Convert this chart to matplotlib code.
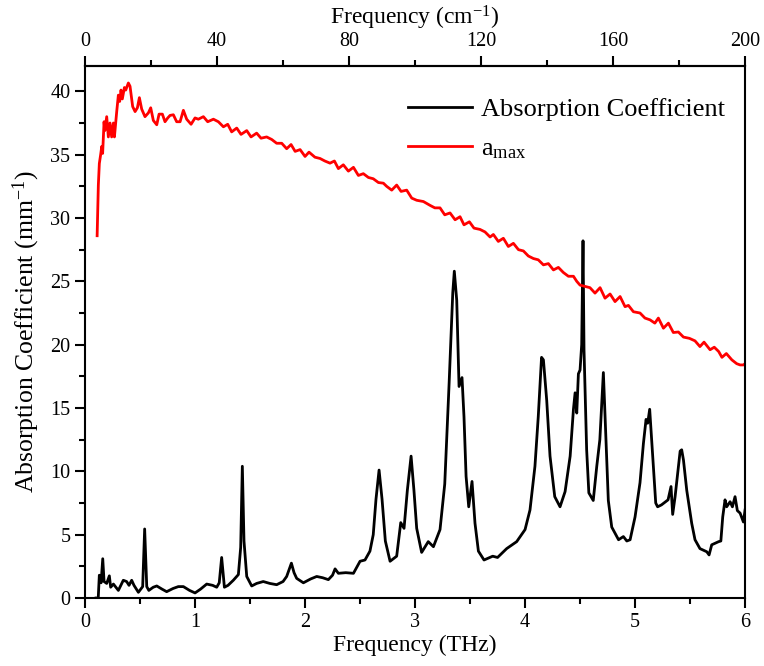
import matplotlib
matplotlib.use("Agg")
import matplotlib.pyplot as plt
from matplotlib.ticker import FixedLocator

plt.rcParams.update({
    'font.family': ['Liberation Serif', 'DejaVu Serif'],
    'mathtext.fontset': 'custom',
    'mathtext.rm': 'Liberation Serif',
    'mathtext.it': 'Liberation Serif:italic',
})

# absorption coefficient (black)
thz_abs = [0.10, 0.12, 0.13, 0.146, 0.161, 0.173, 0.197, 0.221, 0.233, 0.258,
           0.303, 0.348, 0.378, 0.40, 0.424, 0.445, 0.485, 0.524, 0.542, 0.561,
           0.58, 0.62, 0.652, 0.70, 0.742, 0.80, 0.848, 0.894, 0.95, 1.0,
           1.05, 1.106, 1.16, 1.197, 1.22, 1.242, 1.267, 1.30, 1.348, 1.394,
           1.415, 1.43, 1.445, 1.47, 1.515, 1.56, 1.62, 1.68, 1.742, 1.80,
           1.833, 1.876, 1.90, 1.924, 1.985, 2.05, 2.106, 2.16, 2.212, 2.25,
           2.273, 2.303, 2.37, 2.44, 2.50, 2.545, 2.59, 2.62, 2.645, 2.673,
           2.70, 2.73, 2.773, 2.833, 2.87, 2.90, 2.93, 2.964, 2.99, 3.015,
           3.06, 3.12, 3.167, 3.227, 3.27, 3.31, 3.343, 3.357, 3.379, 3.40,
           3.427, 3.445, 3.464, 3.488, 3.518, 3.545, 3.576, 3.627, 3.706, 3.75,
           3.833, 3.924, 4.0, 4.045, 4.09, 4.12, 4.15, 4.167, 4.197, 4.227,
           4.27, 4.318, 4.364, 4.41, 4.44, 4.455, 4.47, 4.485, 4.50, 4.515,
           4.527, 4.536, 4.56, 4.58, 4.62, 4.652, 4.68, 4.712, 4.733, 4.757,
           4.788, 4.85, 4.894, 4.925, 4.955, 5.0, 5.045, 5.076, 5.10, 5.115,
           5.133, 5.157, 5.188, 5.205, 5.24, 5.30, 5.327, 5.342, 5.364, 5.388,
           5.41, 5.424, 5.44, 5.47, 5.515, 5.545, 5.59, 5.652, 5.673, 5.697,
           5.76, 5.78, 5.797, 5.818, 5.833, 5.864, 5.885, 5.909, 5.93, 5.955,
           5.985, 6.0]
abs_coef = [0.0, 0.0, 1.8, 1.2, 3.1, 1.3, 1.15, 1.75, 0.85, 1.1,
            0.6, 1.4, 1.3, 1.0, 1.4, 1.0, 0.45, 0.9, 5.45, 0.9,
            0.6, 0.85, 0.95, 0.7, 0.5, 0.75, 0.9, 0.9, 0.6, 0.4,
            0.7, 1.1, 1.0, 0.85, 1.2, 3.2, 0.85, 1.0, 1.4, 1.85,
            4.0, 10.4, 4.5, 1.7, 0.95, 1.15, 1.3, 1.15, 1.05, 1.3,
            1.7, 2.75, 2.0, 1.55, 1.2, 1.5, 1.7, 1.6, 1.45, 1.8,
            2.3, 1.95, 2.0, 1.95, 2.9, 3.0, 3.7, 5.0, 7.8, 10.1,
            7.8, 4.5, 2.9, 3.3, 5.95, 5.5, 8.5, 11.2, 8.5, 5.5,
            3.6, 4.45, 4.05, 5.4, 9.0, 17.0, 24.1, 25.8, 23.5, 16.7,
            17.4, 14.3, 9.6, 7.2, 9.2, 5.9, 3.7, 3.0, 3.3, 3.2,
            3.9, 4.45, 5.4, 6.95, 10.4, 14.3, 19.0, 18.8, 15.6, 11.2,
            8.0, 7.2, 8.4, 11.2, 14.9, 16.2, 14.6, 17.7, 18.0, 20.0,
            28.2, 19.6, 11.7, 8.3, 7.7, 10.4, 12.5, 17.8, 13.0, 7.7,
            5.6, 4.6, 4.85, 4.5, 4.6, 6.4, 9.1, 12.2, 14.1, 13.8,
            14.9, 11.7, 7.5, 7.2, 7.35, 7.75, 8.8, 6.6, 8.0, 9.9,
            11.6, 11.7, 10.9, 8.5, 5.9, 4.6, 3.9, 3.65, 3.4, 4.2,
            4.45, 4.5, 6.4, 7.75, 7.2, 7.6, 7.2, 8.0, 6.9, 6.7,
            6.0, 6.95]

# a_max (red)
thz_amax = [0.11, 0.121, 0.13, 0.142, 0.152, 0.16, 0.173, 0.18, 0.197, 0.212,
            0.227, 0.242, 0.258, 0.267, 0.288, 0.303, 0.315, 0.327, 0.339, 0.358,
            0.37, 0.394, 0.409, 0.433, 0.455, 0.476, 0.494, 0.515, 0.545, 0.576,
            0.597, 0.621, 0.652, 0.673, 0.703, 0.727, 0.752, 0.773, 0.803, 0.833,
            0.864, 0.894, 0.924, 0.964, 1.0, 1.03, 1.076, 1.115, 1.167, 1.212,
            1.258, 1.297, 1.333, 1.379, 1.418, 1.47, 1.509, 1.56, 1.60, 1.651,
            1.697, 1.742, 1.788, 1.833, 1.873, 1.91, 1.955, 2.0, 2.036, 2.09,
            2.136, 2.18, 2.227, 2.267, 2.303, 2.348, 2.394, 2.44, 2.485, 2.53,
            2.576, 2.62, 2.667, 2.712, 2.742, 2.788, 2.833, 2.873, 2.924, 2.97,
            3.015, 3.076, 3.136, 3.18, 3.227, 3.27, 3.318, 3.364, 3.409, 3.445,
            3.494, 3.536, 3.59, 3.636, 3.682, 3.712, 3.757, 3.803, 3.848, 3.894,
            3.94, 3.985, 4.03, 4.076, 4.12, 4.167, 4.212, 4.258, 4.303, 4.348,
            4.394, 4.44, 4.47, 4.50, 4.545, 4.59, 4.636, 4.682, 4.727, 4.773,
            4.818, 4.864, 4.909, 4.94, 4.985, 5.045, 5.09, 5.136, 5.18, 5.212,
            5.258, 5.303, 5.348, 5.394, 5.44, 5.494, 5.545, 5.59, 5.627, 5.682,
            5.72, 5.76, 5.79, 5.83, 5.88, 5.924, 5.955, 5.985, 6.0]
amax = [28.6, 32.6, 34.3, 35.0, 35.65, 35.1, 37.6, 36.9, 38.0, 36.4,
        37.5, 36.4, 37.5, 36.4, 38.4, 39.7, 39.2, 40.1, 39.4, 40.3,
        40.1, 40.66, 40.4, 38.8, 38.4, 38.7, 39.5, 38.6, 38.0, 38.3,
        38.7, 37.7, 37.36, 38.2, 38.2, 37.6, 37.9, 38.1, 38.15, 37.6,
        37.6, 38.5, 37.8, 37.4, 37.9, 37.8, 38.0, 37.6, 37.8, 37.6,
        37.2, 37.4, 36.8, 37.1, 36.6, 36.9, 36.4, 36.7, 36.3, 36.4,
        36.2, 35.9, 35.9, 35.47, 35.8, 35.26, 35.4, 34.86, 35.2, 34.8,
        34.7, 34.5, 34.33, 34.5, 33.9, 34.2, 33.7, 34.0, 33.36, 33.5,
        33.2, 33.1, 32.8, 32.75, 32.5, 32.2, 32.6, 32.1, 32.2, 31.57,
        31.4, 31.3, 31.0, 30.8, 30.8, 30.25, 30.4, 29.86, 30.1, 29.46,
        29.7, 29.2, 29.1, 28.9, 28.5, 28.7, 28.15, 28.4, 27.75, 28.0,
        27.5, 27.4, 27.0, 26.8, 26.7, 26.3, 26.4, 25.9, 26.1, 25.7,
        25.4, 25.4, 25.0, 24.7, 24.6, 24.5, 24.07, 24.5, 23.67, 24.0,
        23.4, 23.8, 23.0, 23.1, 22.6, 22.5, 22.1, 21.96, 21.7, 22.1,
        21.3, 21.7, 20.96, 21.0, 20.6, 20.5, 20.3, 19.85, 20.2, 19.6,
        19.8, 19.46, 19.0, 19.3, 18.8, 18.5, 18.4, 18.4, 18.5]

thz_ticks = [0, 1, 2, 3, 4, 5, 6]
cm_ticks = [0, 40, 80, 120, 160, 200]
y_ticks = [0, 5, 10, 15, 20, 25, 30, 35, 40]

THZ_TO_CM = 200.0 / 6.0

fig = plt.figure(figsize=(7.64, 6.66), dpi=100)
ax = fig.add_axes([0.1113, 0.1021, 0.8639, 0.7988])

ax.plot(thz_abs, abs_coef, color='black', lw=2.0, label='Absorption Coefficient')
ax.plot(thz_amax, amax, color='red', lw=2.0, label=r'a$\mathregular{_{max}}$')

ax.set_xlim(0, 6)
ax.set_ylim(0, 42)
ax.xaxis.set_major_locator(FixedLocator(thz_ticks))
ax.xaxis.set_minor_locator(FixedLocator([t + 0.5 for t in thz_ticks[:-1]]))
ax.yaxis.set_major_locator(FixedLocator(y_ticks))
ax.yaxis.set_minor_locator(FixedLocator([t + 2.5 for t in y_ticks]))
ax.tick_params(which='both', direction='out', width=1.5, labelsize=14.5,
               right=False, top=False)
ax.tick_params(which='major', length=7)
ax.tick_params(which='minor', length=4)
for sp in ax.spines.values():
    sp.set_linewidth(1.5)

ax.set_xlabel('Frequency (THz)', fontsize=17, labelpad=2)
ax.set_ylabel(r'Absorption Coefficient (mm$\mathregular{^{-1}}$)', fontsize=18.5, labelpad=6)

top = ax.secondary_xaxis('top', functions=(lambda x: x * THZ_TO_CM,
                                           lambda x: x / THZ_TO_CM))
top.xaxis.set_major_locator(FixedLocator(cm_ticks))
top.xaxis.set_minor_locator(FixedLocator([t + 20 for t in cm_ticks[:-1]]))
top.tick_params(which='both', direction='out', width=1.5, labelsize=14.5)
top.tick_params(which='major', length=7)
top.tick_params(which='minor', length=4)
top.spines['top'].set_linewidth(1.5)
top.set_xlabel(r'Frequency (cm$\mathregular{^{-1}}$)', fontsize=17, labelpad=6)

ax.legend(loc='upper left', bbox_to_anchor=(0.462, 0.975), frameon=False,
          fontsize=19, handlelength=2.4, handletextpad=0.35,
          labelspacing=0.6, borderpad=0.2)

fig.savefig('out.png', dpi=100)
